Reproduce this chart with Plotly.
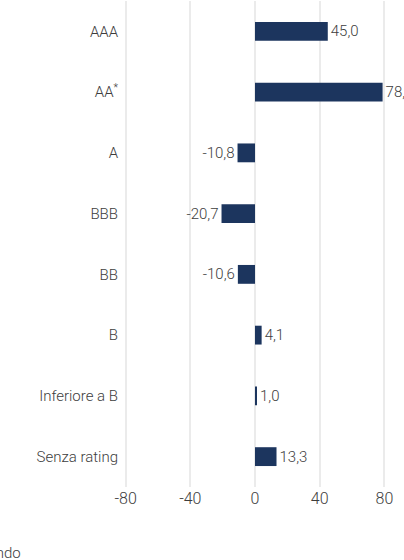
import plotly.graph_objects as go

categories = ["AAA", "AA<sup>*</sup>", "A", "BBB", "BB", "B", "Inferiore a B", "Senza rating"]
values = [45.0, 78.9, -10.8, -20.7, -10.6, 4.1, 1.0, 13.3]
tick_vals = [-80, -40, 0, 40, 80]
tick_text = ["-80", "-40", "0", "40", "80"]
source_note = "Fonte: Mondo"

labels = [f"{v:.1f}".replace(".", ",") for v in values]

FONT = "Roboto, Liberation Sans, sans-serif"
TXT = "#3d3d3d"
FS = 15

fig = go.Figure(
    go.Bar(
        y=categories,
        x=values,
        orientation="h",
        marker=dict(color="#1c355e", line=dict(width=0)),
        width=0.31,
        text=labels,
        textposition="outside",
        textfont=dict(family=FONT, size=FS, color=TXT, weight=300),
        cliponaxis=False,
        constraintext="none",
        hoverinfo="skip",
    )
)

fig.update_layout(
    width=404,
    height=560,
    margin=dict(l=124, r=18, t=1, b=73),
    plot_bgcolor="white",
    paper_bgcolor="white",
    showlegend=False,
    font=dict(family=FONT, size=FS, color=TXT, weight=300),
)
fig.update_xaxes(
    range=[-81, 81],
    tickvals=tick_vals,
    ticktext=tick_text,
    showgrid=True,
    gridcolor="#ebebeb",
    gridwidth=2,
    zeroline=False,
    showline=False,
    ticks="",
    tickfont=dict(family=FONT, size=FS + 1, color=TXT, weight=300),
    automargin=False,
    fixedrange=True,
)
fig.update_yaxes(
    autorange="reversed",
    showgrid=False,
    zeroline=False,
    showline=False,
    ticks="",
    tickfont=dict(family=FONT, size=FS, color=TXT, weight=300),
    ticklabelstandoff=5,
    automargin=False,
    fixedrange=True,
)
fig.add_annotation(
    text=source_note,
    xref="paper", yref="paper",
    x=(23 - 124) / 262, y=-0.135,
    xanchor="right", yanchor="middle",
    showarrow=False,
    font=dict(family=FONT, size=FS, color=TXT, weight=300),
)

fig.write_html(
    "out.html",
    config={"displayModeBar": False},
    post_script="document.body.style.margin='0';document.body.style.overflow='hidden';",
)
